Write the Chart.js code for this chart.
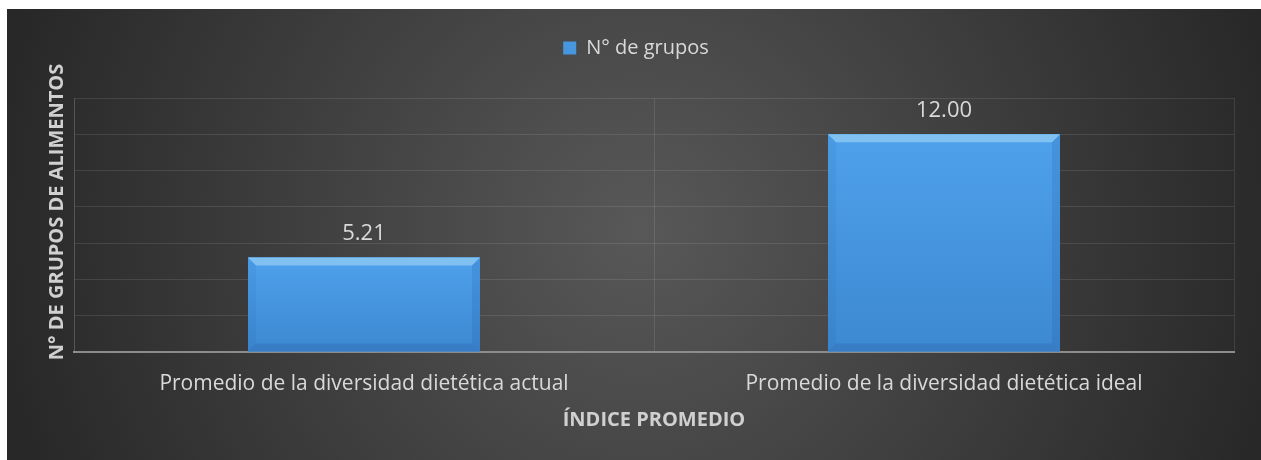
<!DOCTYPE html>
<html>
<head>
<meta charset="utf-8">
<script src="https://cdn.jsdelivr.net/npm/chart.js@4/dist/chart.umd.min.js"></script>
<style>
  html, body { margin: 0; padding: 0; background: #fff; }
  #wrap { position: absolute; left: 7px; top: 9px; width: 1254px; height: 451px; }
</style>
</head>
<body>
<div id="wrap"><canvas id="diet-chart"></canvas></div>
<script>
const categories = [
  'Promedio de la diversidad dietética actual',
  'Promedio de la diversidad dietética ideal'
];
const groupCounts = [5.21, 12.00];
const seriesLabel = 'N° de grupos';
const yMax = 14;
const yStep = 2;

const font = 'Open Sans';
const textColor = '#d9d9d9';
const gridColor = 'rgba(255,255,255,0.1)';

// dark radial background behind everything
const backdrop = {
  id: 'backdrop',
  beforeDraw(chart) {
    const { ctx, width, height } = chart;
    ctx.save();
    const g = ctx.createRadialGradient(633, 220, 0, 633, 220, 650);
    g.addColorStop(0, '#585858');
    g.addColorStop(1, '#282828');
    ctx.fillStyle = g;
    ctx.fillRect(0, 0, width, height);
    ctx.restore();
  }
};

// keep legend block a fixed height so the plot starts where it should,
// and centre it on the full width rather than the padded one
const legendHeight = {
  id: 'legendHeight',
  beforeInit(chart) {
    const lg = chart.legend;
    const fit = lg.fit;
    lg.fit = function () {
      fit.call(this);
      this.height = 89;
    };
  },
  afterLayout(chart) {
    chart.legend.right = chart.width + 4;
  }
};

function poly(ctx, pts, fill) {
  ctx.beginPath();
  ctx.moveTo(pts[0][0], pts[0][1]);
  for (let i = 1; i < pts.length; i++) ctx.lineTo(pts[i][0], pts[i][1]);
  ctx.closePath();
  ctx.fillStyle = fill;
  ctx.fill();
}

// bevelled look + value labels
const bevelLabels = {
  id: 'bevelLabels',
  afterDatasetsDraw(chart) {
    const ctx = chart.ctx;
    const meta = chart.getDatasetMeta(0);
    meta.data.forEach((bar, i) => {
      const { x, y, base, width } = bar.getProps(['x', 'y', 'base', 'width'], true);
      const l = x - width / 2, r = x + width / 2, t = y, b = base;
      const e = 8;
      ctx.save();
      const g = ctx.createLinearGradient(0, t, 0, b);
      g.addColorStop(0, '#4ea1eb');
      g.addColorStop(1, '#3d88d1');
      ctx.fillStyle = g;
      ctx.fillRect(l, t, width, b - t);
      poly(ctx, [[l, t], [r, t], [r - e, t + e], [l + e, t + e]], '#80c1f1');
      poly(ctx, [[l, t], [l + e, t + e], [l + e, b - e], [l, b]], 'rgba(20,70,140,0.07)');
      poly(ctx, [[r, t], [r, b], [r - e, b - e], [r - e, t + e]], 'rgba(20,60,130,0.12)');
      poly(ctx, [[l, b], [r, b], [r - e, b - e], [l + e, b - e]], 'rgba(20,60,130,0.14)');

      ctx.fillStyle = textColor;
      ctx.font = '22px "' + font + '"';
      ctx.textAlign = 'center';
      ctx.textBaseline = 'middle';
      ctx.fillText(groupCounts[i].toFixed(2), x, t - 24);
      ctx.restore();
    });
  }
};

const ctx = document.getElementById('diet-chart').getContext('2d');
new Chart(ctx, {
  type: 'bar',
  data: {
    labels: categories,
    datasets: [{
      label: seriesLabel,
      data: groupCounts,
      backgroundColor: '#4696e0',
      borderWidth: 0,
      categoryPercentage: 0.4,
      barPercentage: 1
    }]
  },
  options: {
    responsive: true,
    maintainAspectRatio: false,
    animation: false,
    layout: { padding: { left: 0, right: 27, top: 0, bottom: 0 } },
    plugins: {
      legend: {
        position: 'top',
        labels: {
          color: textColor,
          font: { family: font, size: 20 },
          boxWidth: 13,
          boxHeight: 13,
          padding: 29
        }
      },
      tooltip: { enabled: false }
    },
    scales: {
      x: {
        grid: { color: gridColor, offset: true, drawTicks: false },
        border: { color: '#8c8c8c', width: 2 },
        ticks: { color: textColor, font: { family: font, size: 21 }, padding: 19 },
        title: {
          display: true,
          text: 'ÍNDICE PROMEDIO',
          color: '#d0d0d0',
          font: { family: font, size: 20, weight: 'bold' },
          padding: { top: 0, bottom: 28 }
        },
        afterFit(s) { s.height = 108; }
      },
      y: {
        min: 0,
        max: yMax,
        ticks: { display: false, stepSize: yStep },
        grid: { color: gridColor, drawTicks: false },
        border: { color: gridColor },
        title: {
          display: true,
          text: '\u00a0\u00a0\u00a0\u00a0\u00a0N° DE GRUPOS DE ALIMENTOS',
          color: '#d0d0d0',
          font: { family: font, size: 20, weight: 'bold' },
          padding: { top: 38, bottom: 0 }
        },
        afterFit(s) { s.width = 67; }
      }
    }
  },
  plugins: [backdrop, legendHeight, bevelLabels]
});
</script>
</body>
</html>
